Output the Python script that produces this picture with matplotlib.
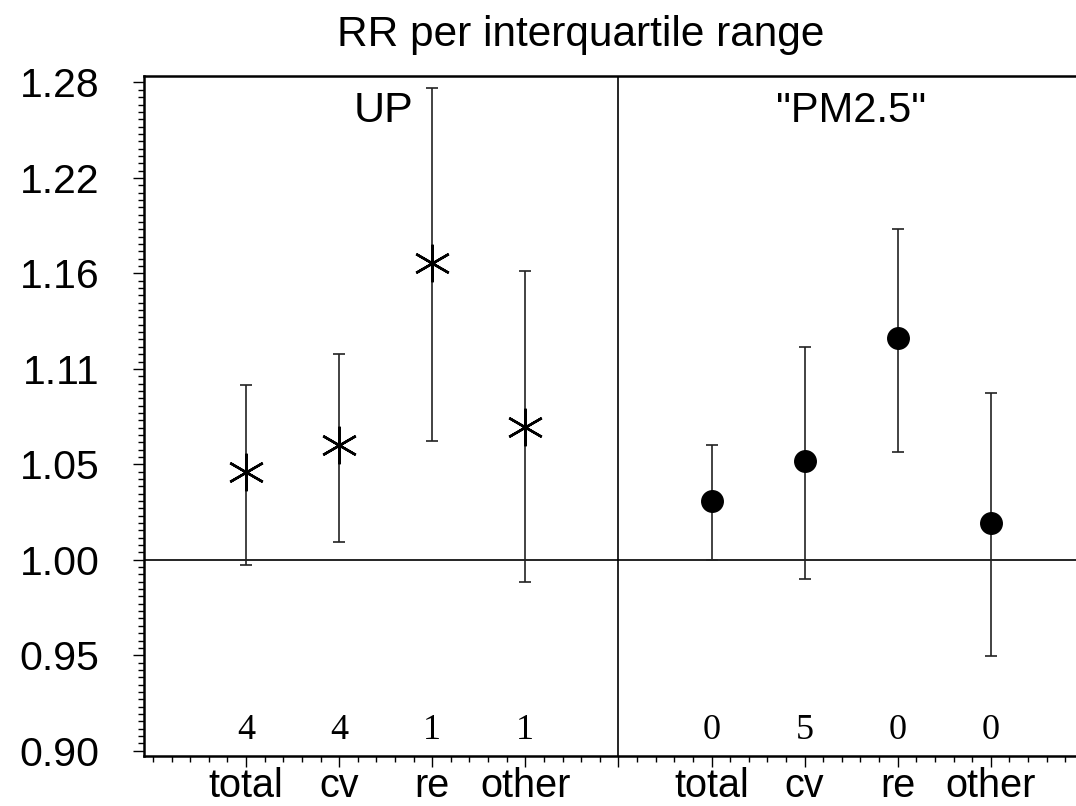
import numpy as np
import matplotlib
matplotlib.use("Agg")
import matplotlib.pyplot as plt
from matplotlib.ticker import FixedLocator, NullFormatter
import matplotlib.transforms as mtransforms

# ---- data ----
categories = ["total", "cv", "re", "other"]
up_rr = [1.047, 1.062, 1.168, 1.072]
up_lo = [0.997, 1.0095, 1.064, 0.9885]
up_hi = [1.096, 1.114, 1.280, 1.163]
pm_rr = [1.031, 1.053, 1.123, 1.0196]
pm_lo = [1.000, 0.990, 1.058, 0.951]
pm_hi = [1.062, 1.118, 1.189, 1.091]
up_counts = ["4", "4", "1", "1"]
pm_counts = ["0", "5", "0", "0"]
ytick_labels = ["0.90", "0.95", "1.00", "1.05", "1.11", "1.16", "1.22", "1.28"]
panel_labels = ["UP", "\"PM2.5\""]
title = "RR per interquartile range"

plt.rcParams["font.family"] = ["Liberation Sans", "DejaVu Sans"]

fig = plt.figure(figsize=(10.76, 8.06), dpi=100)
ax = fig.add_axes([144 / 1076, 50 / 806, 1 - 144 / 1076, 680 / 806])

up_x = np.array([1, 2, 3, 4])
pm_x = np.array([6, 7, 8, 9])

def draw(x, rr, lo, hi, **mk):
    rr = np.array(rr); lo = np.array(lo); hi = np.array(hi)
    ax.errorbar(x, rr, yerr=[rr - lo, hi - rr], fmt="none", ecolor="#222222",
                elinewidth=1.2, capsize=4, capthick=1.2, zorder=2)
    ax.plot(x, rr, linestyle="none", zorder=3, **mk)

draw(up_x, up_rr, up_lo, up_hi, marker=(6, 2, 0), markersize=27,
     markeredgewidth=1.8, color="black")
draw(pm_x, pm_rr, pm_lo, pm_hi, marker="o", markersize=15.5, color="black")

ax.set_yscale("log")
ylo, yhi = np.exp(-0.1028), np.exp(0.2534)
ax.set_ylim(ylo, yhi)
ax.set_xlim(-0.096, 9.915)

ymaj = np.exp(0.05 * np.arange(-2, 6))
ax.yaxis.set_major_locator(FixedLocator(ymaj))
ax.set_yticklabels(ytick_labels)
ax.yaxis.set_minor_locator(FixedLocator(np.exp(np.arange(-27, 67) * 0.05 / 13)))
ax.yaxis.set_minor_formatter(NullFormatter())

ax.set_xticks(list(up_x) + [5] + list(pm_x))
ax.set_xticklabels(categories + [""] + categories)
ax.xaxis.set_minor_locator(FixedLocator(np.arange(0, 10.01, 0.2)))

ax.tick_params(axis="y", which="major", direction="out", length=8, width=1,
               labelsize=29.5, pad=24)
ax.tick_params(axis="y", which="minor", direction="out", length=4, width=1)
ax.tick_params(axis="x", which="major", direction="out", length=8, width=1,
               labelsize=28.5, pad=0)
ax.tick_params(axis="x", which="minor", direction="out", length=4, width=1)

for s in ["left", "bottom", "top"]:
    ax.spines[s].set_linewidth(1.8)
ax.spines["right"].set_visible(False)

ax.axhline(1.0, color="black", linewidth=1.2, zorder=1)
ax.axvline(5, color="black", linewidth=1.2, zorder=1)

trans = mtransforms.blended_transform_factory(ax.transData, ax.transAxes)
for x, c in zip(list(up_x) + list(pm_x), up_counts + pm_counts):
    ax.text(x, 0.038, c, transform=trans, ha="center", va="center",
            fontsize=26, family=["Liberation Serif", "DejaVu Serif"])

ax.text(2.48, 0.949, panel_labels[0], transform=trans, ha="center", va="center",
        fontsize=31)
ax.text(7.5, 0.949, panel_labels[1], transform=trans, ha="center", va="center",
        fontsize=30)

fig.text(581 / 1076, 1 - 35 / 806, title, ha="center", va="center", fontsize=30.5)

fig.savefig("out.png", dpi=100)
